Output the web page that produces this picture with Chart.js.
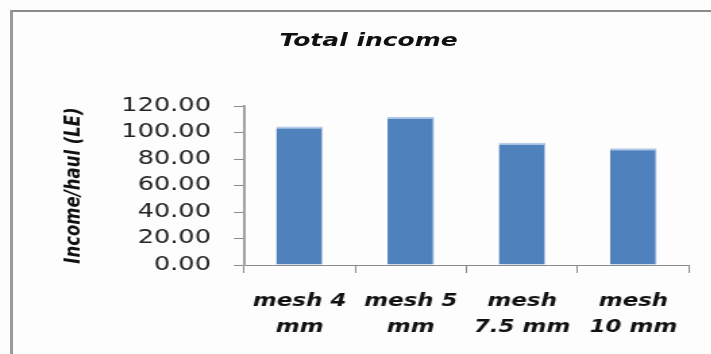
<!DOCTYPE html>
<html>
<head>
<meta charset="utf-8">
<script src="https://cdn.jsdelivr.net/npm/chart.js@4"></script>
<style>
  html, body { margin: 0; padding: 0; background: #fdfdfd; overflow: hidden; }
  body { width: 711px; height: 354px; position: relative; }
  #frame {
    position: absolute; left: 10px; top: 10px; right: -20px; bottom: -20px;
    border-left: 3px solid #9a9a9a; border-top: 2px solid #8c8c8c;
  }
  /* the reference picture is stretched sideways, so the whole chart is too */
  #wrap {
    position: absolute; left: 0; top: 0; width: 527px; height: 354px;
    transform: scaleX(1.35); transform-origin: 0 0;
  }
  #title {
    position: absolute; top: 29px; left: 0; width: 546px; text-align: center;
    font: italic bold 18.5px "DejaVu Sans"; color: #111; line-height: 22px;
  }
</style>
</head>
<body>
<div id="frame"></div>
<div id="wrap">
  <div id="title">Total income</div>
  <canvas id="incomeChart"></canvas>
</div>
<script>
const meshLabels = [["mesh 4", "mm"], ["mesh 5", "mm"], ["mesh", "7.5 mm"], ["mesh", "10 mm"]];
const incomePerHaul = [104.6, 111.9, 92.3, 88.1];
const yTicks = [0, 20, 40, 60, 80, 100, 120];

document.addEventListener("DOMContentLoaded", function () {
  const ctx = document.getElementById("incomeChart").getContext("2d");
  const axisGray = "#8a8a8a";

  new Chart(ctx, {
    type: "bar",
    data: {
      labels: meshLabels,
      datasets: [{
        data: incomePerHaul,
        backgroundColor: "#4f81bd",
        borderColor: "#b4cbe8",
        borderWidth: { top: 2, right: 1, left: 0, bottom: 0 },
        borderSkipped: false,
        barPercentage: 0.42,
        categoryPercentage: 1.0
      }]
    },
    options: {
      responsive: true,
      maintainAspectRatio: false,
      animation: false,
      layout: { padding: { left: 0, top: 106, right: 16.6, bottom: 0 } },
      plugins: {
        legend: { display: false },
        tooltip: { enabled: false }
      },
      scales: {
        x: {
          afterFit: function (scale) { scale.height = 89; },
          grid: { drawOnChartArea: false, tickLength: 8, color: axisGray, offset: true },
          border: { color: axisGray, width: 1 },
          ticks: {
            color: "#111",
            padding: 16,
            maxRotation: 0,
            autoSkip: false,
            font: { family: "DejaVu Sans", size: 17, style: "italic", weight: "bold", lineHeight: 1.53 }
          }
        },
        y: {
          min: yTicks[0],
          max: yTicks[yTicks.length - 1],
          afterFit: function (scale) { scale.width = 180.7; },
          afterBuildTicks: function (scale) { scale.ticks = yTicks.map(v => ({ value: v })); },
          grid: { drawOnChartArea: false, tickLength: 7.4, color: axisGray },
          border: { color: "#a0a0a0", width: 2 },
          ticks: {
            color: "#222",
            padding: 17,
            font: { family: "DejaVu Sans", size: 19 },
            callback: function (value) { return Number(value).toFixed(2); }
          },
          title: {
            display: true,
            text: "Income/haul (LE)",
            color: "#111",
            padding: { top: 45, bottom: 0 },
            font: { family: "DejaVu Sans", size: 16.5, style: "italic", weight: "bold", lineHeight: 1.2 }
          }
        }
      }
    }
  });
});
</script>
</body>
</html>
